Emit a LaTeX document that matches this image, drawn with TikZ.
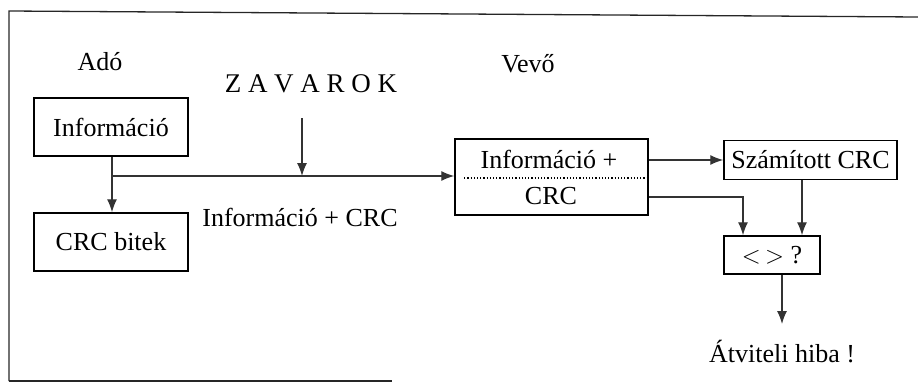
\documentclass[tikz,border=0pt]{standalone}
\usepackage{fontspec}
\setmainfont{Liberation Serif}
\usetikzlibrary{arrows.meta}
\begin{document}
\begin{tikzpicture}[x=1pt,y=-1pt,
  txt/.style={font=\fontsize{26}{30}\selectfont, inner sep=0pt},
  box/.style={draw, line width=1.5pt, minimum width=#1, inner sep=0pt, font=\fontsize{26}{30}\selectfont},
  conn/.style={line width=1.3pt, draw=black!80},
  arr/.style={conn, -{Latex[length=13pt,width=10pt]}},
  frame/.style={line width=1.3pt, draw=black!85}]
\useasboundingbox (0,0) rectangle (918,388);
% frame
\draw[frame] (9,381) -- (9,11) -- (918,17);
\draw[frame] (9,381) -- (392,381);
% labels
\node[txt] (ado) at (100,62) {Adó};
\node[txt, font=\fontsize{27}{30}\selectfont] (zav) at (311,84) {Z A V A R O K};
\node[txt] (vevo) at (528,64) {Vevő};
% boxes
\node[box=154pt, minimum height=58pt] (info) at (111,127) {Információ};
\node[box=154pt, minimum height=58pt] (crcb) at (111,242) {CRC bitek};
\node[box=193pt, minimum height=76pt] (recv) at (551.5,177) {};
\node[txt] (recv1) at (549,159) {Információ +};
\node[txt] (recv2) at (551,196) {CRC};
\draw[line width=1.2pt, dotted] (recv.west |- 0,178) ++(10,0) coordinate (d1) -- (recv.east |- 0,178) ++(-8,0);
\node[box=173pt, minimum height=39pt] (szam) at (810.5,160) {Számított CRC};
\node[box=96pt, minimum height=38pt] (cmp) at (772,255) {$<$\,$>$ ?};
\node[txt] (hiba) at (782,352) {Átviteli hiba !};
% connectors
\coordinate (zavtop) at (302,118);
\coordinate (junc) at (112,176);
\coordinate (out) at (782,324);
\draw[arr] (info.south -| junc) -- (crcb.north -| junc);
\draw[arr] (junc) -- (recv.west |- junc);
\draw[arr] (zavtop) -- (302,176);
\draw[arr] (recv.east |- szam.west) -- (szam.west);
\draw[arr] (recv.east |- 0,197) -| (cmp.north -| 743,0);
\draw[arr] (szam.south -| 802,0) -- (cmp.north -| 802,0);
\draw[arr] (cmp.south -| out) -- (out);
\node[txt] (lab) at (300,217) {Információ + CRC};
\end{tikzpicture}
\end{document}
